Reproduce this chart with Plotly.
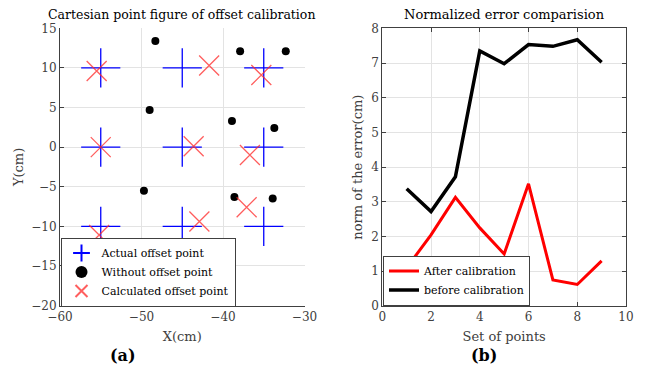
import plotly.graph_objects as go

# Left panel data
actual_x = [-55, -45, -35, -55, -45, -35, -55, -45, -35]
actual_y = [10, 10, 10, 0, 0, 0, -10, -10, -10]
without_x = [-48.3, -37.9, -32.3, -49.0, -38.9, -33.7, -49.7, -38.6, -33.9]
without_y = [13.4, 12.1, 12.1, 4.7, 3.3, 2.4, -5.5, -6.3, -6.5]
calc_x = [-55.5, -41.7, -35.3, -55.0, -43.6, -36.7, -55.2, -42.9, -37.1]
calc_y = [9.6, 10.3, 9.1, 0.0, 0.1, -1.0, -11.1, -9.4, -7.6]

# Right panel data
set_points = [1, 2, 3, 4, 5, 6, 7, 8, 9]
after_cal = [1.1, 2.05, 3.13, 2.25, 1.5, 3.52, 0.75, 0.62, 1.3]
before_cal = [3.38, 2.72, 3.72, 7.35, 6.98, 7.53, 7.48, 7.67, 7.02]

FONT = "DejaVu Serif"
W, H = 651, 366

fig = go.Figure()
fig.add_trace(go.Scatter(x=actual_x, y=actual_y, mode="markers", name="Actual offset point",
                         marker=dict(symbol="cross-thin", size=28, line=dict(color="#0000ff", width=1.3)),
                         xaxis="x", yaxis="y", legend="legend"))
fig.add_trace(go.Scatter(x=without_x, y=without_y, mode="markers", name="Without offset point",
                         marker=dict(symbol="circle", size=8, color="black"),
                         xaxis="x", yaxis="y", legend="legend"))
fig.add_trace(go.Scatter(x=calc_x, y=calc_y, mode="markers", name="Calculated offset point",
                         marker=dict(symbol="x-thin", size=20, line=dict(color="rgba(255,40,40,0.75)", width=1.3)),
                         xaxis="x", yaxis="y", legend="legend"))
fig.add_trace(go.Scatter(x=set_points, y=after_cal, mode="lines", name="After calibration",
                         line=dict(color="#ff0000", width=3), xaxis="x2", yaxis="y2", legend="legend2"))
fig.add_trace(go.Scatter(x=set_points, y=before_cal, mode="lines", name="before calibration",
                         line=dict(color="black", width=3.5), xaxis="x2", yaxis="y2", legend="legend2"))

def px(v):
    return v / W

def py(v):
    return 1 - v / H

TICKC = "#404040"
axis_common = dict(showgrid=True, gridcolor="#e3e3e3", gridwidth=1, ticks="inside", ticklen=4,
                   tickcolor=TICKC, showline=True, linecolor=TICKC, linewidth=1, automargin=False,
                   tickfont=dict(family=FONT, size=12, color=TICKC), zeroline=False)
title_font = dict(family=FONT, size=13, color=TICKC)

fig.update_layout(
    template="none",
    width=W, height=H, margin=dict(l=0, r=0, t=0, b=0, pad=0),
    paper_bgcolor="white", plot_bgcolor="white",
    font=dict(family=FONT, color="black"),
    xaxis=dict(domain=[px(60), px(304.5)], range=[-60, -30], dtick=10, anchor="y",
               title=dict(text="X(cm)", font=title_font, standoff=8),
               mirror=False, **axis_common),
    yaxis=dict(domain=[py(305.5), py(28.3)], range=[-20, 15], dtick=5, anchor="x",
               title=dict(text="Y(cm)", font=title_font, standoff=4),
               mirror=False, **axis_common),
    xaxis2=dict(domain=[px(382.3), px(626)], range=[0, 10], dtick=2, anchor="y2",
                title=dict(text="Set of points", font=title_font, standoff=8),
                mirror="ticks", **axis_common),
    yaxis2=dict(domain=[py(306), py(28.3)], range=[0, 8], dtick=1, anchor="x2",
                title=dict(text="norm of the error(cm)", font=title_font, standoff=5),
                mirror="ticks", **axis_common),
    legend=dict(x=px(60.5), y=py(306.5), xanchor="left", yanchor="bottom", bgcolor="white",
                bordercolor=TICKC, borderwidth=1, font=dict(family=FONT, size=11, color="black"),
                tracegroupgap=0, itemsizing="constant"),
    legend2=dict(x=px(383), y=py(305.5), xanchor="left", yanchor="bottom", bgcolor="white",
                 bordercolor=TICKC, borderwidth=1, font=dict(family=FONT, size=11, color="black"),
                 tracegroupgap=0),
    showlegend=True,
)

def note(text, x, y, size):
    fig.add_annotation(text=text, x=px(x), y=py(y), xref="paper", yref="paper",
                       xanchor="center", yanchor="middle", showarrow=False,
                       font=dict(family=FONT, size=size, color="black"))

note("Cartesian point figure of offset calibration", 182, 14, 12.5)
note("Normalized error comparision", 504, 14, 13)
note("<b>(a)</b>", 123, 355, 16)
note("<b>(b)</b>", 484, 355, 16)

fig.write_html("out.html")
